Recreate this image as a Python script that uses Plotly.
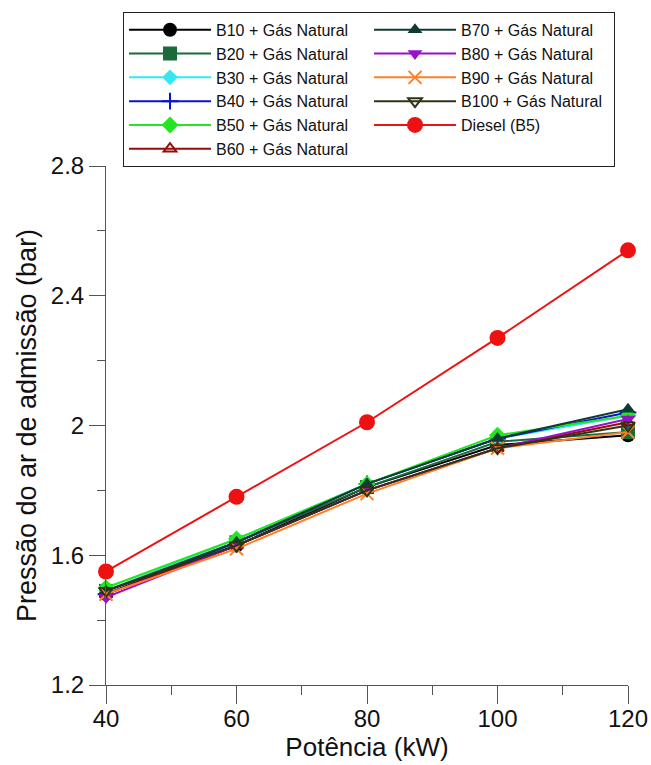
import plotly.graph_objects as go

# Engine power (kW)
potencia = [40, 60, 80, 100, 120]

# Intake air pressure (bar) per fuel blend
b10 = [1.48, 1.63, 1.81, 1.94, 1.97]
b20 = [1.49, 1.64, 1.81, 1.95, 1.98]
b30 = [1.49, 1.65, 1.82, 1.96, 2.03]
b40 = [1.48, 1.64, 1.82, 1.96, 2.04]
b50 = [1.50, 1.65, 1.82, 1.97, 2.03]
b60 = [1.48, 1.63, 1.80, 1.93, 2.01]
b70 = [1.49, 1.64, 1.82, 1.96, 2.05]
b80 = [1.47, 1.63, 1.80, 1.93, 2.02]
b90 = [1.48, 1.62, 1.79, 1.93, 1.98]
b100 = [1.49, 1.63, 1.80, 1.93, 2.00]
diesel = [1.55, 1.78, 2.01, 2.27, 2.54]

# name, values, colour, symbol, size, legend rank (row-wise two-column order)
series = [
    ("B10 + Gás Natural", b10, "#000000", "circle", 14, 1),
    ("B20 + Gás Natural", b20, "#1b6b3a", "square", 14, 3),
    ("B30 + Gás Natural", b30, "#33e8f0", "diamond", 12, 5),
    ("B40 + Gás Natural", b40, "#0a14c8", "cross-thin", 12, 7),
    ("B50 + Gás Natural", b50, "#22e622", "diamond", 13, 9),
    ("B60 + Gás Natural", b60, "#9a0a0a", "triangle-up-open", 11, 11),
    ("B70 + Gás Natural", b70, "#103a34", "triangle-up", 13, 2),
    ("B80 + Gás Natural", b80, "#9a10c8", "triangle-down", 13, 4),
    ("B90 + Gás Natural", b90, "#ff7f27", "x-thin", 13, 6),
    ("B100 + Gás Natural", b100, "#2e3316", "triangle-down-open", 12, 8),
    ("Diesel (B5)", diesel, "#ee1111", "circle", 16, 10),
]

fig = go.Figure()
for name, vals, color, sym, size, rank in series:
    marker = dict(color=color, symbol=sym, size=size)
    if sym.endswith("-thin") or sym.endswith("-open"):
        marker["line"] = dict(color=color, width=2)
    fig.add_trace(go.Scatter(
        x=potencia, y=vals, name=name, mode="lines+markers",
        line=dict(color=color, width=2), marker=marker,
        legendrank=rank, cliponaxis=False,
    ))

axis_font = dict(family="Liberation Sans, Arial, sans-serif", size=24, color="#111")

fig.update_layout(
    width=651, height=765,
    margin=dict(l=106, r=23, t=160, b=80),
    paper_bgcolor="white", plot_bgcolor="white",
    font=dict(family="Liberation Sans, Arial, sans-serif", color="#111"),
    legend=dict(
        orientation="h", x=0.0326, y=1.297, xanchor="left", yanchor="top",
        entrywidth=148, entrywidthmode="pixels", itemwidth=82,
        font=dict(size=16, color="#111"),
        bordercolor="#222", borderwidth=1, bgcolor="white",
        traceorder="normal",
    ),
    xaxis=dict(
        range=[40, 120], tickvals=[40, 60, 80, 100, 120],
        ticks="outside", ticklen=18, tickcolor="#555", tickwidth=1,
        ticklabelstandoff=-6,
        minor=dict(tickvals=[50, 70, 90, 110], ticks="outside", ticklen=9,
                   tickcolor="#555"),
        showline=True, linecolor="#555", linewidth=1,
        showgrid=False, zeroline=False, automargin=False,
        tickfont=axis_font,
        title=dict(text="Potência (kW)", font=dict(size=26), standoff=0),
    ),
    yaxis=dict(
        range=[1.2, 2.8], tickvals=[1.2, 1.6, 2.0, 2.4, 2.8],
        ticktext=["1.2", "1.6", "2", "2.4", "2.8"],
        ticks="outside", ticklen=16, tickcolor="#555", tickwidth=1,
        minor=dict(tickvals=[1.4, 1.8, 2.2, 2.6], ticks="outside", ticklen=8,
                   tickcolor="#555"),
        showline=True, linecolor="#555", linewidth=1,
        showgrid=False, zeroline=False, automargin=False,
        tickfont=axis_font,
        title=dict(text="Pressão do ar de admissão (bar)", font=dict(size=27),
                   standoff=6),
    ),
)

fig.write_html("out.html")
